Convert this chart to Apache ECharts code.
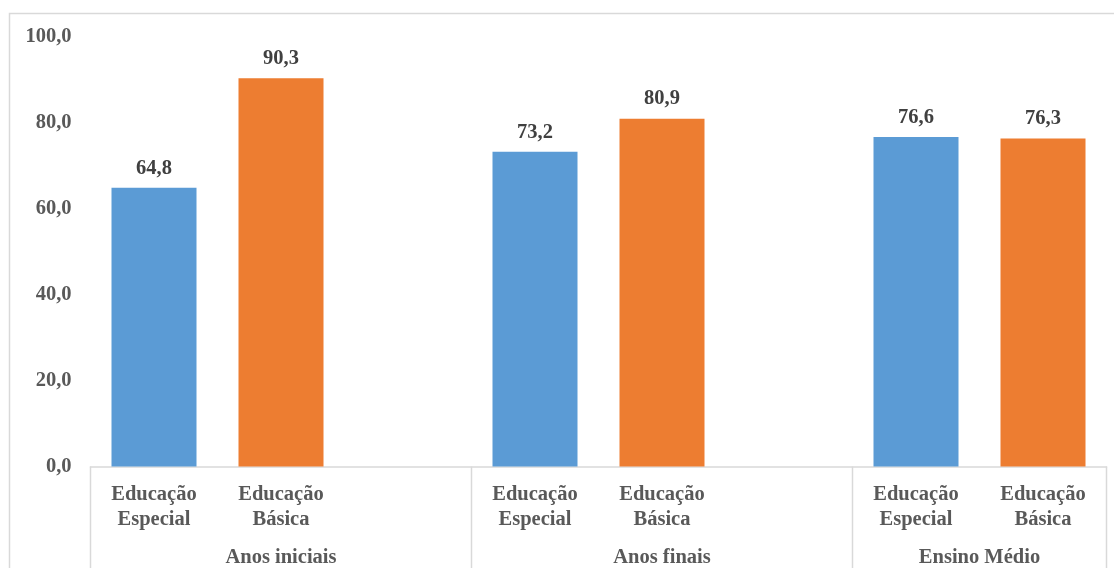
<!DOCTYPE html>
<html>
<head>
<meta charset="utf-8">
<script src="https://cdn.jsdelivr.net/npm/echarts@6/dist/echarts.min.js"></script>
<style>
html,body{margin:0;padding:0;background:#fff;overflow:hidden;width:1114px;height:568px;}
#chart{width:1114px;height:568px;}
</style>
</head>
<body>
<div id="chart"></div>
<script>
// Categories (a blank spacer category closes the first two groups)
var categories = ['Educação\nEspecial', 'Educação\nBásica', '', 'Educação\nEspecial', 'Educação\nBásica', '', 'Educação\nEspecial', 'Educação\nBásica'];
var groups = ['Anos iniciais', 'Anos finais', 'Ensino Médio'];
var groupSizes = [3, 3, 2];
var especial = [64.8, '-', '-', 73.2, '-', '-', 76.6, '-'];
var basica = ['-', 90.3, '-', '-', 80.9, '-', '-', 76.3];
var yTicks = [0, 20, 40, 60, 80, 100];

var fmt = function (v) { return Number(v).toFixed(1).replace('.', ','); };
var font = '"Liberation Serif", "Times New Roman", serif';
var fs = 20.5;
var catW = 127;
var left = 90.5;
var plotW = catW * categories.length;

var chart = echarts.init(document.getElementById('chart'));

var graphics = [{
  type: 'rect',
  shape: { x: 9.5, y: 13.5, width: 1300, height: 700 },
  style: { fill: 'none', stroke: '#d9d9d9', lineWidth: 1.5 },
  silent: true
}];

chart.setOption({
  animation: false,
  backgroundColor: '#ffffff',
  graphic: graphics,
  grid: { left: left, top: 36.5, width: plotW, height: 430 },
  xAxis: [{
    type: 'category',
    data: categories,
    axisLine: { show: true, lineStyle: { color: '#d9d9d9', width: 1.5 } },
    axisTick: { show: false },
    axisLabel: {
      interval: 0, margin: 16, color: '#595959', fontFamily: font,
      fontWeight: 'bold', fontSize: fs, lineHeight: 25
    }
  }],
  yAxis: {
    type: 'value',
    min: yTicks[0],
    max: yTicks[yTicks.length - 1],
    interval: 20,
    axisLine: { show: false },
    axisTick: { show: false },
    splitLine: { show: false },
    axisLabel: {
      margin: 19, color: '#595959', fontFamily: font, fontWeight: 'bold', fontSize: fs,
      formatter: fmt
    }
  },
  series: [{
    type: 'bar',
    name: 'Educação Especial',
    data: especial,
    barWidth: 85,
    barGap: '-100%',
    itemStyle: { color: '#5B9BD5' },
    label: {
      show: true, position: 'top', distance: 9, color: '#404040', fontFamily: font,
      fontWeight: 'bold', fontSize: fs, formatter: function (p) { return fmt(p.value); }
    }
  }, {
    type: 'bar',
    name: 'Educação Básica',
    data: basica,
    barWidth: 85,
    barGap: '-100%',
    itemStyle: { color: '#ED7D31' },
    label: {
      show: true, position: 'top', distance: 9, color: '#404040', fontFamily: font,
      fontWeight: 'bold', fontSize: fs, formatter: function (p) { return fmt(p.value); }
    }
  }]
});

// Group separators and labels, positioned with the chart's own category scale
var baseY = chart.convertToPixel({ yAxisIndex: 0 }, 0);
var half = catW / 2;
var start = 0;
groups.forEach(function (g, i) {
  var x0 = chart.convertToPixel({ xAxisIndex: 0 }, start) - half;
  var x1 = chart.convertToPixel({ xAxisIndex: 0 }, start + groupSizes[i] - 1) + half;
  graphics.push({
    type: 'line', silent: true,
    shape: { x1: x0, y1: baseY, x2: x0, y2: 600 },
    style: { stroke: '#d9d9d9', lineWidth: 1.5 }
  });
  if (i === groups.length - 1) {
    graphics.push({
      type: 'line', silent: true,
      shape: { x1: x1, y1: baseY, x2: x1, y2: 600 },
      style: { stroke: '#d9d9d9', lineWidth: 1.5 }
    });
  }
  graphics.push({
    type: 'text', silent: true,
    x: (x0 + x1) / 2, y: 558,
    style: {
      text: g, fill: '#595959', font: 'bold ' + fs + 'px ' + font,
      align: 'center', verticalAlign: 'middle'
    }
  });
  start += groupSizes[i];
});
chart.setOption({ graphic: graphics });
</script>
</body>
</html>
